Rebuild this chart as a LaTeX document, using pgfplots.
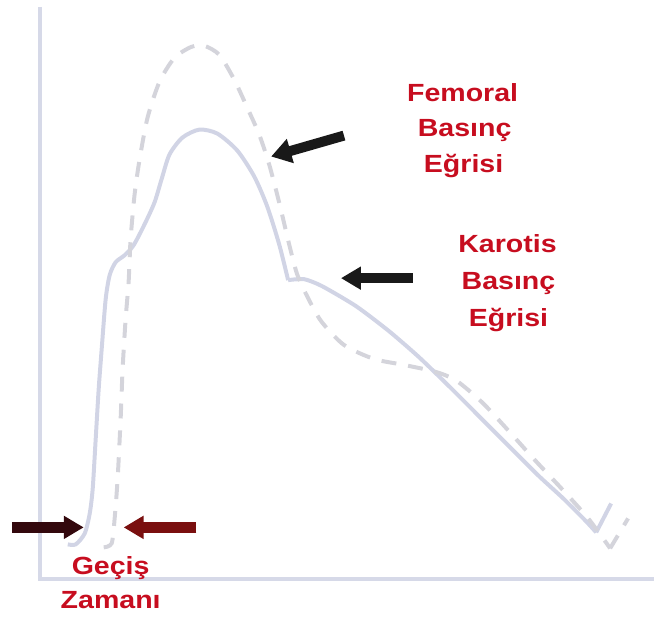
\documentclass[border=0pt]{standalone}
\usepackage{pgfplots}
\pgfplotsset{compat=1.18}
\usepackage{fontspec}
\setmainfont{Liberation Sans}
\usetikzlibrary{arrows.meta}
\definecolor{solidc}{rgb}{0.82,0.83,0.90}
\definecolor{dashc}{rgb}{0.83,0.83,0.86}
\definecolor{axc}{rgb}{0.84,0.85,0.91}
\definecolor{txtred}{rgb}{0.78,0.05,0.12}
\definecolor{arrdark}{rgb}{0.20,0.03,0.05}
\definecolor{arrred}{rgb}{0.48,0.06,0.06}
\newcommand{\lbl}[1]{\scalebox{1.15}[1]{\fontsize{25}{30}\selectfont\bfseries #1}}
\begin{document}
\begin{tikzpicture}
\begin{axis}[
  x=1bp, y=1bp, scale only axis,
  xmin=0, xmax=656, ymin=0, ymax=619, y dir=reverse,
  hide axis, clip=false,
]
\path (axis cs:0,0) rectangle (axis cs:656,619);
% axes
\addplot[axc, line width=4bp, no marks] coordinates {(40,7) (40,581) (656,581)};
% Karotis (solid)
\addplot[solidc, line width=4bp, no marks, smooth, tension=0.45] coordinates {
(68,546) (76,546) (85,535) (90,515) (93,490) (96,440) (99,390) (102,350) (106,300) (110,276) (116,263) (125,256) (134,246) (145,225) (155,203) (162,180) (170,155) (183,138) (200,130) (218,134) (238,151) (255,177) (268,207) (280,245) (289,281)};
\addplot[solidc, line width=4bp, no marks, smooth, tension=0.4] coordinates {
(289,281) (305,280) (323,287) (357,307) (390,332) (420,358) (450,387) (480,417) (510,447) (540,477) (565,500) (587,522) (598,534)};
\addplot[solidc, line width=4bp, no marks] coordinates {(598,534) (613,505)};
% Femoral (dashed)
\addplot[dashc, line width=4bp, no marks, smooth, tension=0.45, dash pattern=on 15bp off 12bp] coordinates {
(104,549) (112,545) (115,520) (118,480) (121,420) (123,370) (126,320) (129,283) (131,240) (135,195) (140,160) (148,118) (160,82) (175,58) (192,47) (205,46) (220,55) (235,80) (248,108) (260,135) (270,165) (280,203) (290,245) (298,275) (307,295) (322,322) (345,346) (375,360) (405,366) (437,373) (458,382) (484,404) (510,432) (537,462) (565,492) (590,520) (612,550)};
\addplot[dashc, line width=4bp, no marks, dash pattern=on 15bp off 12bp] coordinates {(612,550) (630,520)};
% arrows
\draw[black!90, line width=10bp, -{Triangle[length=20bp,width=24bp]}] (axis cs:345,136) -- (axis cs:272,157);
\draw[black!90, line width=10bp, -{Triangle[length=20bp,width=22bp]}] (axis cs:414,279) -- (axis cs:342,279);
\draw[arrdark, line width=11bp, -{Triangle[length=20bp,width=22bp]}] (axis cs:12,529) -- (axis cs:84,529);
\draw[arrred, line width=11bp, -{Triangle[length=20bp,width=22bp]}] (axis cs:197,529) -- (axis cs:124,529);
% labels
\node[text=txtred, anchor=base] at (axis cs:464,102) {\lbl{Femoral}};
\node[text=txtred, anchor=base] at (axis cs:466,137) {\lbl{Basınç}};
\node[text=txtred, anchor=base] at (axis cs:465,173) {\lbl{Eğrisi}};
\node[text=txtred, anchor=base] at (axis cs:509,253) {\lbl{Karotis}};
\node[text=txtred, anchor=base] at (axis cs:510,290) {\lbl{Basınç}};
\node[text=txtred, anchor=base] at (axis cs:510,327) {\lbl{Eğrisi}};
\node[text=txtred, anchor=base] at (axis cs:111,576) {\lbl{Geçiş}};
\node[text=txtred, anchor=base] at (axis cs:111,610) {\lbl{Zamanı}};
\end{axis}
\end{tikzpicture}
\end{document}
